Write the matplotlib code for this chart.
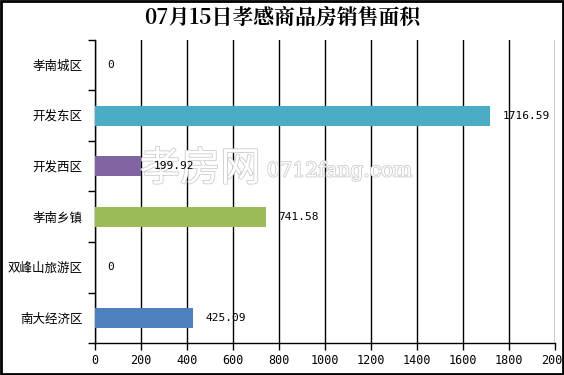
import matplotlib.pyplot as plt
import matplotlib.patheffects as pe
from matplotlib.patches import Rectangle

plt.rcParams['font.family'] = ['Noto Sans CJK SC', 'DejaVu Sans']

regions = ['孝南城区', '开发东区', '开发西区', '孝南乡镇', '双峰山旅游区', '南大经济区']
areas = [0, 1716.59, 199.92, 741.58, 0, 425.09]
labels = ['0', '1716.59', '199.92', '741.58', '0', '425.09']
colors = ['#4BACC6', '#4BACC6', '#8064A2', '#9BBB59', '#4F81BD', '#4F81BD']
xticks = list(range(0, 2001, 200))

fig = plt.figure(figsize=(5.64, 3.75), dpi=100)
ax = fig.add_axes([95 / 564, 32 / 375, 460 / 564, 303 / 375])

ypos = list(range(len(regions)))
ax.barh(ypos, areas, height=0.4, color=colors, zorder=3)
for y, v, t in zip(ypos, areas, labels):
    ax.annotate(t, (v, y), xytext=(9, 0), textcoords='offset points',
                ha='left', va='center', fontsize=8,
                family=['DejaVu Sans Mono'], zorder=6)

ax.set_ylim(len(regions) - 0.5, -0.5)
ax.set_xlim(0, 2000)
ax.set_xticks(xticks)
ax.set_xticklabels([str(x) for x in xticks], family=['DejaVu Sans Mono'], fontsize=8.5)
ax.set_yticks(ypos)
ax.set_yticklabels(regions, fontsize=9)
ax.set_yticks([i - 0.5 for i in range(len(regions) + 1)], minor=True)
ax.tick_params(axis='y', which='major', length=0, pad=9)
ax.tick_params(axis='y', which='minor', length=5, width=1, direction='out')
ax.tick_params(axis='x', length=5, width=1, direction='out', pad=3)
ax.grid(axis='x', color='black', linewidth=1, zorder=1)
ax.spines['top'].set_visible(False)
ax.spines['right'].set_visible(False)
for s in ['left', 'bottom']:
    ax.spines[s].set_linewidth(1)

fig.text(0.5, 0.952, '07月15日孝感商品房销售面积', ha='center', va='center',
         fontsize=15, fontweight='bold', family=['Noto Serif CJK SC', 'Noto Sans CJK SC', 'DejaVu Serif'])

# watermark, under the value labels
ax.text(0.248, 0.549, '孝房网', ha='left', va='center', fontsize=29, color='white',
        transform=fig.transFigure,
        path_effects=[pe.withStroke(linewidth=1.2, foreground='#cccccc')], zorder=5)
ax.text(0.473, 0.544, '0712fang.com', ha='left', va='center', fontsize=14.5, color='white',
        family=['DejaVu Serif'], transform=fig.transFigure,
        path_effects=[pe.withStroke(linewidth=1.2, foreground='#cccccc')], zorder=5)

fig.patches.append(Rectangle((0.002, 0.003), 0.996, 0.994, transform=fig.transFigure,
                             fill=False, edgecolor='black', linewidth=2))

fig.savefig('out.png', dpi=100)
